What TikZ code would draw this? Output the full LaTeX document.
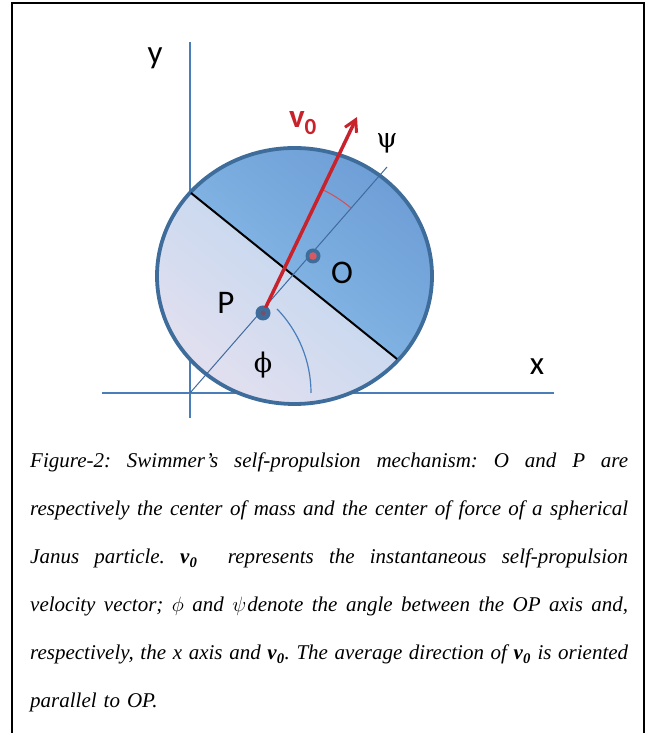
\documentclass[tikz,border=0pt]{standalone}
\usepackage{fontspec}
\setmainfont{Liberation Serif}
\newfontfamily\labelfont{Carlito}
\newfontfamily\greekfont{DejaVu Serif}
\usetikzlibrary{arrows.meta,calc}
\definecolor{axisblue}{HTML}{4A7EBB}
\definecolor{rimblue}{HTML}{3F6D9B}
\definecolor{capdark}{HTML}{5D8CCA}
\definecolor{caplight}{HTML}{88BAE8}
\definecolor{bodyblue}{HTML}{C0D6EF}
\definecolor{bodypink}{HTML}{F8E6EF}
\definecolor{velred}{HTML}{C8232C}
\newcommand{\vnought}{\textbf{\textit{v\textsubscript{0}}}}
\newcommand{\capline}[1]{\leavevmode\hbox to 598pt{\spaceskip=.25em plus .6em minus .1em\relax #1}}

\begin{document}
\begin{tikzpicture}[x=1pt,y=1pt,
 every node/.style={inner sep=0pt},
 frame/.style={draw=black,line width=2pt},
 axis/.style={draw=axisblue,line width=1.3pt},
 opaxis/.style={draw=axisblue!85!black,line width=1pt},
 rim/.style={draw=rimblue,line width=3.8pt},
 divider/.style={draw=black,line width=2pt},
 vel/.style={draw=velred,line width=3.5pt,-{Straight Barb[length=4mm,width=4.5mm,line width=3pt]}},
 psiarc/.style={draw=velred!80,line width=1pt},
 phiarc/.style={draw=axisblue,line width=1.2pt},
 dot/.style={circle,fill=rimblue,minimum size=15pt},
 lab/.style={font=\labelfont\fontsize{33}{36}\selectfont},
 greek/.style={font=\greekfont\fontsize{27}{30}\selectfont},
 caption/.style={anchor=north west,text width=598pt,align=left,
  font=\itshape\frenchspacing\fontsize{21}{48}\selectfont}]
\useasboundingbox (0,0) rectangle (649,733);
\draw[frame] (12,-5) -- (12,730) -- (644,730) -- (644,-5);

\coordinate (origin) at (190,340);
\coordinate (ytop) at (190,691);
\coordinate (ybot) at (190,315);
\coordinate (xleft) at (102,340);
\coordinate (xright) at (554,340);
\draw[axis] (ybot) -- (ytop);
\draw[axis] (xleft) -- (xright);

\coordinate (centre) at (294.5,457);
\coordinate (divA) at (191,540);
\coordinate (divB) at (397,374);
\begin{scope}
 \clip (centre) ellipse [x radius=137.5,y radius=128];
 \shade[top color=capdark,bottom color=caplight,shading angle=-39]
  (divA) -- (divB) -- ($(divB)+(125,156)$) -- ($(divA)+(125,156)$) -- cycle;
 \shade[top color=bodyblue,bottom color=bodypink,shading angle=-39]
  (divA) -- (divB) -- ($(divB)-(125,156)$) -- ($(divA)-(125,156)$) -- cycle;
\end{scope}
\draw[rim] (centre) ellipse [x radius=137.5,y radius=128];
\draw[divider] (divA) -- (divB);

\coordinate (opend) at (387,566);
\draw[opaxis] (origin) -- (opend);
\draw[phiarc] ($(origin)+(121,0)$) arc [start angle=0,end angle=44,radius=121];

\node[dot] (P) at (263,420) {};
\node[dot] (O) at (313,477) {};
\fill[velred!75] (O) circle (3.8);
\coordinate (tip) at (357,616);
\draw[psiarc] ($(P)+(50:137)$) arc [start angle=50,end angle=64.4,radius=137];
\draw[vel] (P.center) -- (tip);
\node[dot,minimum size=12pt] (Pdot) at (P) {};
\fill[velred!40!rimblue] (Pdot) circle (2.5);

\node[lab] (ylab) at (155,675) {y};
\node[lab] (xlab) at (537,366) {x};
\node[lab] (Olab) at (342,460) {O};
\node[lab] (Plab) at (226,430) {P};
\node[lab,text=velred] (vlab) at (303,610) {\bfseries v\textsubscript{0}};
\node[greek] (psilab) at (387,590) {ψ};
\node[greek] (philab) at (263,368) {ϕ};

\node[caption] (caption) at (30,280) {%
\capline{Figure-2: Swimmer’s self-propulsion mechanism: O and P are}\\
\capline{respectively the center of mass and the center of force of a spherical}\\
\capline{Janus particle. \vnought\ \ represents the instantaneous self-propulsion}\\
\capline{velocity vector; $\phi$ and $\psi$\kern1pt denote the angle between the OP axis and,}\\
\capline{respectively, the x axis and \vnought. The average direction of \vnought\ is oriented}\\
parallel to OP.};
\end{tikzpicture}
\end{document}
